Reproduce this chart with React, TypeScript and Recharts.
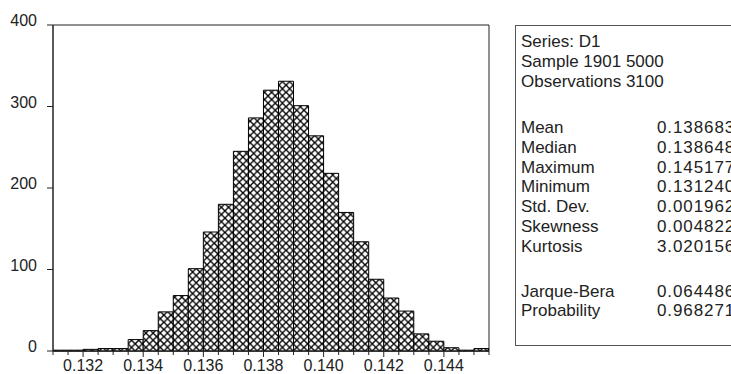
import { BarChart, Bar, XAxis, YAxis, ReferenceArea } from 'recharts';

// histogram bins (centres) and counts
const binCenters = [
  0.13125, 0.13175, 0.13225, 0.13275, 0.13325, 0.13375, 0.13425, 0.13475, 0.13525, 0.13575,
  0.13625, 0.13675, 0.13725, 0.13775, 0.13825, 0.13875, 0.13925, 0.13975, 0.14025, 0.14075,
  0.14125, 0.14175, 0.14225, 0.14275, 0.14325, 0.14375, 0.14425, 0.14475, 0.14525,
];
const counts = [
  1, 1, 2, 3, 3, 14, 25, 48, 68, 101,
  146, 180, 245, 286, 320, 331, 301, 264, 218, 170,
  134, 88, 65, 49, 21, 12, 4, 1, 3,
];
const binEdges = [
  0.131, 0.1315, 0.132, 0.1325, 0.133, 0.1335, 0.134, 0.1345, 0.135, 0.1355,
  0.136, 0.1365, 0.137, 0.1375, 0.138, 0.1385, 0.139, 0.1395, 0.14, 0.1405,
  0.141, 0.1415, 0.142, 0.1425, 0.143, 0.1435, 0.144, 0.1445, 0.145, 0.1455,
];
const xTickLabels = ['0.132', '0.134', '0.136', '0.138', '0.140', '0.142', '0.144'];
const yTicks = [0, 100, 200, 300, 400];

const statTop = ['Series: D1', 'Sample 1901 5000', 'Observations 3100'];
const statNames = ['Mean', 'Median', 'Maximum', 'Minimum', 'Std. Dev.', 'Skewness', 'Kurtosis'];
const statValues = ['0.138683', '0.138648', '0.145177', '0.131240', '0.001962', '0.004822', '3.020156'];
const testNames = ['Jarque-Bera', 'Probability'];
const testValues = ['0.064486', '0.968271'];

const data = binCenters.map((x, i) => ({ x, count: counts[i] }));

const FONT = '"Liberation Sans", Arial, sans-serif';
const INK = '#222';
const X_DOMAIN: [number, number] = [0.131, 0.1455];

const XTick = (props: any) => {
  const { x, y, payload } = props;
  const label = xTickLabels.find((l) => Math.abs(parseFloat(l) - payload.value) < 1e-7);
  return (
    <g>
      <line x1={x} x2={x} y1={y} y2={y + (label ? 6 : 4)} stroke={INK} />
      {label && (
        <text x={x} y={y + 20} textAnchor='middle' fontSize={16} fontFamily={FONT} fill={INK}>
          {label}
        </text>
      )}
    </g>
  );
};

const YTick = (props: any) => {
  const { x, y, payload } = props;
  return (
    <text x={x} y={y + 1} textAnchor='end' fontSize={16} fontFamily={FONT} fill={INK}>
      {payload.value}
    </text>
  );
};

const row = (top: number, left = 0): React.CSSProperties => ({
  position: 'absolute',
  top,
  left,
  whiteSpace: 'nowrap',
  lineHeight: '20px',
});

const VAL_X = 136;
const valStyle = (top: number): React.CSSProperties => ({ ...row(top, VAL_X), letterSpacing: 0.9 });

export default function App() {
  return (
    <div
      style={{
        position: 'absolute',
        left: 0,
        top: 0,
        width: 731,
        height: 374,
        overflow: 'hidden',
        background: '#fff',
        fontFamily: FONT,
      }}
    >
      <svg width={0} height={0} style={{ position: 'absolute' }}>
        <defs>
          <pattern id='xhatch' patternUnits='userSpaceOnUse' x={63.3} y={351} width={7.185} height={7.185}>
            <rect width={7.185} height={7.185} fill='#fff' />
            <path d='M0 0 L7.185 7.185 M7.185 0 L0 7.185' stroke='#000' strokeWidth={1.35} />
          </pattern>
        </defs>
      </svg>

      <BarChart
        width={731}
        height={374}
        data={data}
        margin={{ top: 25, right: 242, bottom: 0, left: 0 }}
        barCategoryGap={0}
        barGap={0}
      >
        <XAxis
          dataKey='x'
          type='number'
          domain={X_DOMAIN}
          allowDataOverflow
          ticks={binEdges}
          interval={0}
          height={23}
          tickSize={0}
          tickMargin={0}
          tickLine={false}
          tick={<XTick />}
          stroke={INK}
        />
        <YAxis
          type='number'
          domain={[0, 400]}
          ticks={yTicks}
          width={53}
          tickSize={6}
          tickMargin={10}
          tick={<YTick />}
          stroke={INK}
        />
        <ReferenceArea
          x1={X_DOMAIN[0]}
          x2={X_DOMAIN[1]}
          y1={0}
          y2={400}
          fill='none'
          fillOpacity={0}
          stroke={INK}
          strokeOpacity={1}
          ifOverflow='visible'
        />
        <Bar dataKey='count' fill='url(#xhatch)' stroke='#000' strokeWidth={1} isAnimationActive={false} />
      </BarChart>

      <div
        style={{
          position: 'absolute',
          left: 515,
          top: 25,
          width: 300,
          height: 319,
          border: '1px solid #555',
          fontSize: 17,
          color: INK,
        }}
      >
        <div style={{ position: 'absolute', left: 5, top: 6, width: 300 }}>
          {statTop.map((t, i) => (
            <div key={t} style={row(i * 20)}>
              {t}
            </div>
          ))}
          {statNames.map((t, i) => (
            <div key={t} style={row(86 + i * 19.8)}>
              {t}
            </div>
          ))}
          {statValues.map((t, i) => (
            <div key={t} style={valStyle(86 + i * 19.8)}>
              {t}
            </div>
          ))}
          {testNames.map((t, i) => (
            <div key={t} style={row(250 + i * 19)}>
              {t}
            </div>
          ))}
          {testValues.map((t, i) => (
            <div key={t} style={valStyle(250 + i * 19)}>
              {t}
            </div>
          ))}
        </div>
      </div>
    </div>
  );
}
